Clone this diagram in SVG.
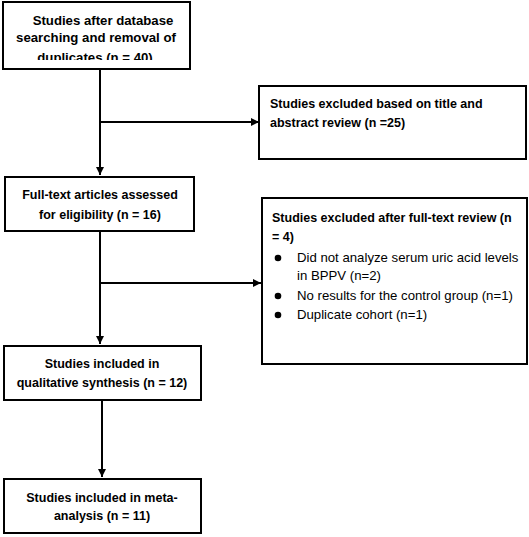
<svg xmlns="http://www.w3.org/2000/svg" width="529" height="537" viewBox="0 0 529 537">
<style>
.box{fill:#fff;stroke:#000;stroke-width:2}
.t{font-family:"Liberation Sans",Arial,sans-serif;font-size:12.5px;fill:#000}
.b{font-weight:bold}
.c{text-anchor:middle}
.big{font-size:13.2px}
.r{font-size:13.2px}
.ln{fill:none;stroke:#000;stroke-width:2}
</style>
<defs>
<marker id="ah" viewBox="0 0 8 8" refX="8" refY="4" markerWidth="4" markerHeight="4" orient="auto" markerUnits="strokeWidth">
<path d="M0,0 L8,4 L0,8 z" fill="#000"/>
</marker>
<clipPath id="clip1"><rect x="0" y="0" width="200" height="60"/></clipPath>
</defs>
<g id="connectors">
<path class="ln" d="M100,69 V175" marker-end="url(#ah)"/>
<path class="ln" d="M100,122 H259" marker-end="url(#ah)"/>
<path class="ln" d="M100,231 V344" marker-end="url(#ah)"/>
<path class="ln" d="M100,283 H261" marker-end="url(#ah)"/>
<path class="ln" d="M102,400 V477" marker-end="url(#ah)"/>
</g>
<g id="n1">
<rect class="box" x="3" y="2" width="187" height="67"/>
<g clip-path="url(#clip1)">
<text class="t b c big" x="103" y="25">Studies after database</text>
<text class="t b c big" x="96" y="42">searching and removal of</text>
<text class="t b c big" x="95" y="62">duplicates (n = 40)</text>
</g>
</g>
<g id="n2">
<rect class="box" x="259" y="86" width="267" height="73"/>
<text class="t b" x="270" y="108">Studies excluded based on title and</text>
<text class="t b" x="270" y="127">abstract review (n =25)</text>
</g>
<g id="n3">
<rect class="box" x="5" y="177" width="189" height="54"/>
<text class="t b c" x="100" y="199">Full-text articles assessed</text>
<text class="t b c" x="100" y="219">for eligibility (n = 16)</text>
</g>
<g id="n4">
<rect class="box" x="262" y="198" width="265" height="166"/>
<text class="t b" x="272" y="222">Studies excluded after full-text review (n</text>
<text class="t b" x="272" y="241">= 4)</text>
<circle cx="278" cy="258" r="3.3"/>
<text class="t r" x="297" y="262">Did not analyze serum uric acid levels</text>
<text class="t r" x="297" y="280">in BPPV (n=2)</text>
<circle cx="278" cy="296" r="3.3"/>
<text class="t r" x="297" y="300">No results for the control group (n=1)</text>
<circle cx="278" cy="315" r="3.3"/>
<text class="t r" x="297" y="319">Duplicate cohort (n=1)</text>
</g>
<g id="n5">
<rect class="box" x="4" y="346" width="197" height="54"/>
<text class="t b c" x="102" y="368">Studies included in</text>
<text class="t b c" x="102" y="387">qualitative synthesis (n = 12)</text>
</g>
<g id="n6">
<rect class="box" x="4" y="479" width="197" height="54"/>
<text class="t b c" x="102" y="502">Studies included in meta-</text>
<text class="t b c" x="102" y="520">analysis (n = 11)</text>
</g>
</svg>
